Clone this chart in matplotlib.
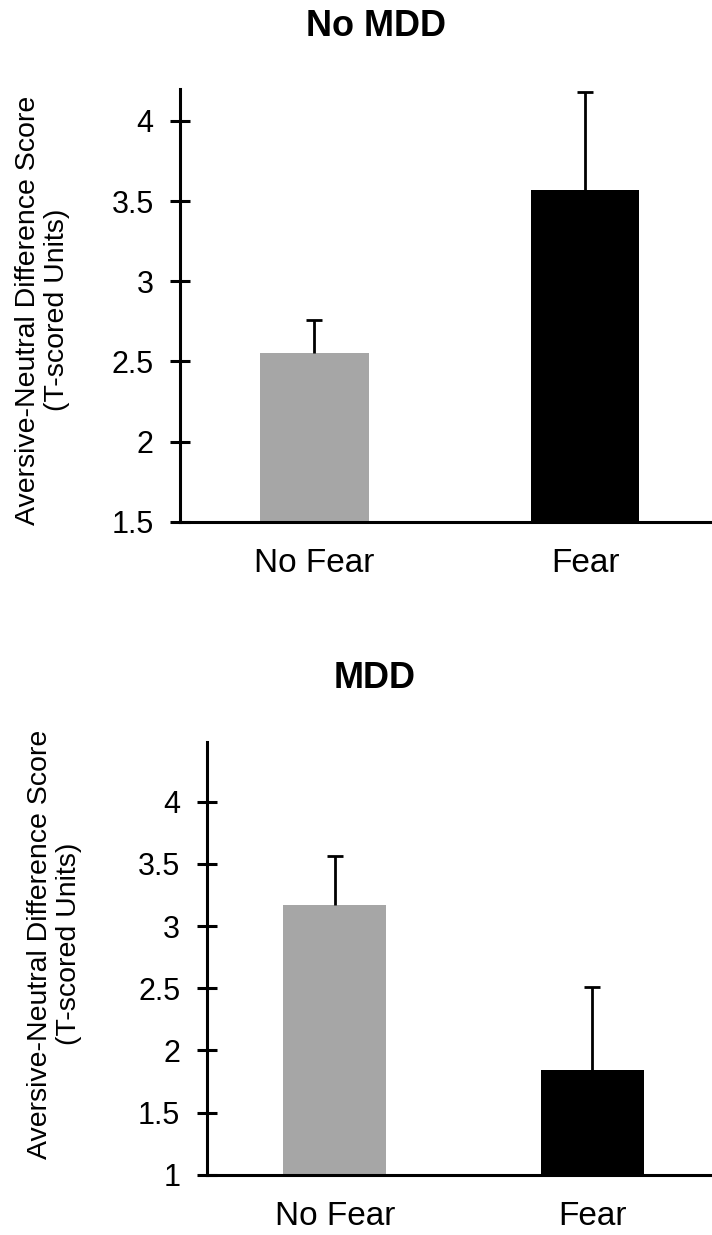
import matplotlib
matplotlib.use('Agg')
import matplotlib.pyplot as plt

plt.rcParams['font.family'] = ['Liberation Sans', 'DejaVu Sans']

# data
categories = ['No Fear', 'Fear']
bar_colors = ['#a6a6a6', '#000000']

no_mdd_means = [2.55, 3.57]
no_mdd_err = [0.21, 0.61]

mdd_means = [3.17, 1.84]
mdd_err = [0.39, 0.67]

ylabel = 'Aversive-Neutral Difference Score\n(T-scored Units)'

fig = plt.figure(figsize=(7.12, 12.35), dpi=100)

# top panel (No MDD), bottom panel (MDD)
ax1 = fig.add_axes([0.2528, 0.5776, 0.7472, 0.3504])
ax2 = fig.add_axes([0.2903, 0.0487, 0.7097, 0.3505])


def draw_panel(ax, means, errs, ylim, yticks, xlim):
    x = list(range(len(categories)))
    ax.bar(x, means, width=0.4, color=bar_colors, edgecolor='none', zorder=2)
    lower = [0] * len(errs)
    eb = ax.errorbar(x, means, yerr=[lower, errs], fmt='none', ecolor='black',
                     elinewidth=2, capsize=6, capthick=2, zorder=3)
    eb[1][0].set_visible(False)  # only the upper cap

    ax.set_xlim(*xlim)
    ax.set_ylim(*ylim)
    ax.set_yticks(yticks)
    ax.set_yticklabels([f'{t:g}' for t in yticks])
    ax.set_xticks(x)
    ax.set_xticklabels(categories)

    for s in ['top', 'right']:
        ax.spines[s].set_visible(False)
    for s in ['left', 'bottom']:
        ax.spines[s].set_linewidth(2.2)
    ax.tick_params(axis='y', direction='inout', length=14, width=2.2,
                   labelsize=22, pad=12)
    ax.tick_params(axis='x', length=0, labelsize=24, pad=19)
    ax.patch.set_alpha(0)


draw_panel(ax1, no_mdd_means, no_mdd_err, (1.5, 4.2),
           [1.5, 2, 2.5, 3, 3.5, 4], (-0.497, 1.469))
draw_panel(ax2, mdd_means, mdd_err, (1.0, 4.48),
           [1, 1.5, 2, 2.5, 3, 3.5, 4], (-0.4975, 1.466))

# titles
fig.text(376 / 712, 1 - 26 / 1235, 'No MDD', ha='center', va='center',
         fontsize=26, fontweight='bold')
fig.text(375 / 712, 1 - 678 / 1235, 'MDD', ha='center', va='center',
         fontsize=26, fontweight='bold')

# y labels
fig.text(43 / 712, 1 - 310 / 1235, ylabel, rotation=90, ha='center',
         va='center', fontsize=20.5, linespacing=1.15)
fig.text(55 / 712, 1 - 944 / 1235, ylabel, rotation=90, ha='center',
         va='center', fontsize=20.5, linespacing=1.15)

fig.savefig('out.png', dpi=100)
